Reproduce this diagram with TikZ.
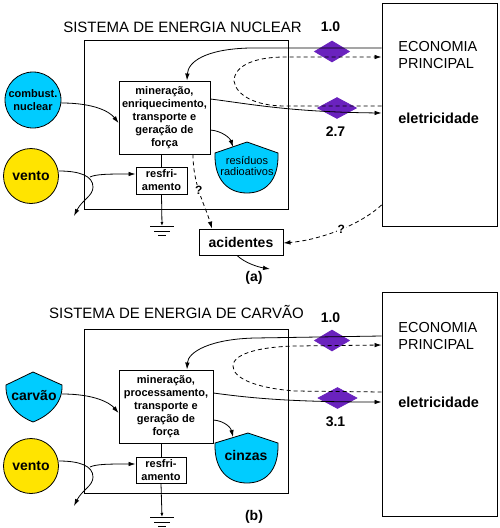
\documentclass[tikz,border=0pt]{standalone}
\usepackage{fontspec}
\setmainfont{Liberation Sans}
\usetikzlibrary{arrows.meta,shapes.geometric}
\definecolor{cy}{RGB}{0,204,255}
\definecolor{ye}{RGB}{255,228,0}
\definecolor{pu}{RGB}{106,34,190}
\begin{document}
\begin{tikzpicture}[x=1pt,y=-1pt,
  every node/.style={inner sep=0pt},
  every path/.style={line width=0.8pt},
  frame/.style={draw,line width=0.9pt},
  box/.style={draw,line width=0.9pt,fill=white},
  arr/.style={-{Latex[length=7pt,width=4.5pt]}},
  dsh/.style={dash pattern=on 4pt off 3pt},
  titlef/.style={font=\fontsize{15}{17}\selectfont},
  ecof/.style={font=\fontsize{14.5}{17}\selectfont},
  boldsm/.style={font=\fontsize{11}{13}\selectfont\bfseries},
  boldbig/.style={font=\fontsize{14}{16}\selectfont\bfseries},
  qmark/.style={font=\fontsize{12}{14}\selectfont\bfseries,fill=white,inner sep=1pt},
  valve/.style={diamond,fill=pu,draw=pu,minimum width=35pt,minimum height=21pt,inner sep=0pt},
  shield/.style={fill=cy,draw=black,line width=0.8pt},
  ballc/.style={circle,draw,line width=0.8pt,minimum size=56pt},
]
\useasboundingbox (0,0) rectangle (499,528);

% ================= panel (a) =================
\node[titlef] (titA) at (182.5,27) {SISTEMA DE ENERGIA NUCLEAR};
\node[boldbig] (nA1) at (330.5,27) {1.0};
\node[frame,minimum width=204pt,minimum height=169pt] (sysA) at (186,124.5) {};
\node[frame,minimum width=115pt,minimum height=223pt] (ecoA) at (439.5,114.5) {};
\node[ecof,anchor=west,align=left] (ecoAt) at (398,55) {ECONOMIA\\PRINCIPAL};
\node[font=\fontsize{14.5}{17}\selectfont\bfseries,anchor=west] (eleA) at (398,118) {eletricidade};
\node[valve] (vA1) at (332,51.5) {};
\node[valve,minimum width=39pt] (vA2) at (337,108) {};
\node[boldbig] (nA2) at (335.5,132) {2.7};

\node[box,boldsm,align=center,minimum width=91pt,minimum height=73pt] (procA) at (164.5,117.5)
  {mineração,\\enriquecimento,\\transporte e\\geração de\\força};
\node[box,boldsm,align=center,minimum width=51pt,minimum height=27pt] (resA) at (161.5,180.5) {resfri-\\amento};
\node[box,boldbig,minimum width=84pt,minimum height=26pt] (acA) at (241,242) {acidentes};
\node[ballc,fill=cy,boldsm,align=center] (combA) at (33,100) {combust.\\nuclear};
\node[ballc,fill=ye,boldbig,minimum size=55pt] (ventoA) at (31,176) {vento};

\draw[shield] (215,153) -- (247,142) -- (278,153) .. controls (279,181) and (265,193) .. (247,193)
  .. controls (229,193) and (214,181) .. cycle;
\node[font=\fontsize{11}{11}\selectfont,align=center] (residA) at (247,165.5) {resíduos\\radioativos};
\coordinate (residAtop) at (233,147);

\coordinate (gndA) at (162,226);
\draw[-{Latex[length=4pt,width=3pt]}] (resA.south) -- (gndA);
\draw (150,226) -- (174,226);
\draw (154,231) -- (170,231);
\draw (158,235) -- (166,235);

\coordinate (ventoAout) at (74,216);
\coordinate (splitA) at (90,177);
\coordinate (acAout) at (270,269);

\draw[arr] (combA.east |- 0,103) .. controls (95,103) and (110,112) .. (procA.west |- 0,123);
\draw[arr] (ecoA.west |- 0,48) -- (250,48) .. controls (205,49) and (188,62) .. (procA.north -| 187,0);
\draw[arr,dsh] (ecoA.west |- 0,106) -- (285,106) .. controls (255,106) and (236,95) .. (234,81)
  .. controls (234,68) and (250,57) .. (285,57) -- (ecoA.west |- 0,57);
\draw[arr] (procA.east |- 0,99) .. controls (250,104) and (290,112) .. (ecoA.west |- 0,113);
\draw[arr] (ventoA.east |- 0,171) .. controls (80,171) and (93,176) .. (93,187)
  .. controls (93,196) and (82,200) .. (ventoAout);
\draw[arr] (splitA) .. controls (96,174) and (110,174) .. (resA.west |- 0,174);
\draw (procA.south -| resA.north) -- (resA.north);
\draw[arr] (procA.east |- 0,130) .. controls (222,131) and (230,138) .. (residAtop);
\draw[arr,dsh] (procA.south -| 193,0) .. controls (193,185) and (205,205) .. (acA.north -| 212,0)
  node[qmark,pos=0.45] {?};
\draw[arr,dsh] (ecoA.west |- 0,205) .. controls (360,225) and (320,240) .. (acA.east |- 0,243)
  node[qmark,pos=0.47] {?};
\draw[arr] (acA.south -| 237,0) .. controls (245,263) and (258,267) .. (acAout);
\node[boldbig] (labA) at (254,278) {(a)};

% ================= panel (b) =================
\node[titlef] (titB) at (176.5,312) {SISTEMA DE ENERGIA DE CARVÃO};
\node[boldbig] (nB1) at (330.5,318) {1.0};
\node[frame,minimum width=204pt,minimum height=164pt] (sysB) at (186,411) {};
\node[frame,minimum width=115pt,minimum height=224pt] (ecoB) at (439.5,404) {};
\node[ecof,anchor=west,align=left] (ecoBt) at (398,336) {ECONOMIA\\PRINCIPAL};
\node[font=\fontsize{14.5}{17}\selectfont\bfseries,anchor=west] (eleB) at (398,402) {eletricidade};
\node[valve] (vB1) at (332,340.5) {};
\node[valve,minimum width=39pt] (vB2) at (337.5,398) {};
\node[boldbig] (nB2) at (335.5,422) {3.1};

\node[box,boldsm,align=center,minimum width=94pt,minimum height=73pt] (procB) at (166,406.5)
  {mineração,\\processamento,\\transporte e\\geração de\\força};
\node[box,boldsm,align=center,minimum width=50pt,minimum height=26pt] (resB) at (161,470) {resfri-\\amento};
\node[ballc,fill=ye,boldbig,minimum size=55pt] (ventoB) at (31,466) {vento};

\draw[shield] (6,385) -- (33,372) -- (62,385) .. controls (63,405) and (46,417) .. (33,422)
  .. controls (20,417) and (5,405) .. cycle;
\node[boldbig] (carvB) at (34,396) {carvão};
\coordinate (carvBout) at (62,394);

\draw[shield] (215,443) -- (248,433) -- (278,443) .. controls (279,471) and (265,483) .. (247,483)
  .. controls (229,483) and (214,471) .. cycle;
\node[boldbig] (cinzB) at (246,455) {cinzas};
\coordinate (cinzBtop) at (233,437);

\coordinate (gndB) at (162,517);
\draw[-{Latex[length=4pt,width=3pt]}] (resB.south) -- (gndB);
\draw (150,517) -- (174,517);
\draw (154,522) -- (170,522);
\draw (158,526) -- (166,526);

\coordinate (ventoBout) at (74,506);
\coordinate (splitB) at (90,467);

\draw[arr] (carvBout) .. controls (95,394) and (110,403) .. (procB.west |- 0,413);
\draw[arr] (ecoB.west |- 0,336) -- (255,338) .. controls (210,339) and (188,352) .. (procB.north -| 187,0);
\draw[arr,dsh] (ecoB.west |- 0,392) -- (295,391) .. controls (255,388) and (233,378) .. (233,366)
  .. controls (233,355) and (255,347) .. (295,346) -- (ecoB.west |- 0,345);
\draw[arr] (procB.east |- 0,393) .. controls (250,398) and (290,402) .. (ecoB.west |- 0,402);
\draw[arr] (ventoB.east |- 0,461) .. controls (80,461) and (93,466) .. (93,477)
  .. controls (93,486) and (82,490) .. (ventoBout);
\draw[arr] (splitB) .. controls (96,464) and (110,464) .. (resB.west |- 0,464);
\draw (procB.south -| resB.north) -- (resB.north);
\draw[arr] (procB.east |- 0,420) .. controls (225,421) and (231,428) .. (cinzBtop);
\node[boldbig] (labB) at (254,517) {(b)};
\end{tikzpicture}
\end{document}
